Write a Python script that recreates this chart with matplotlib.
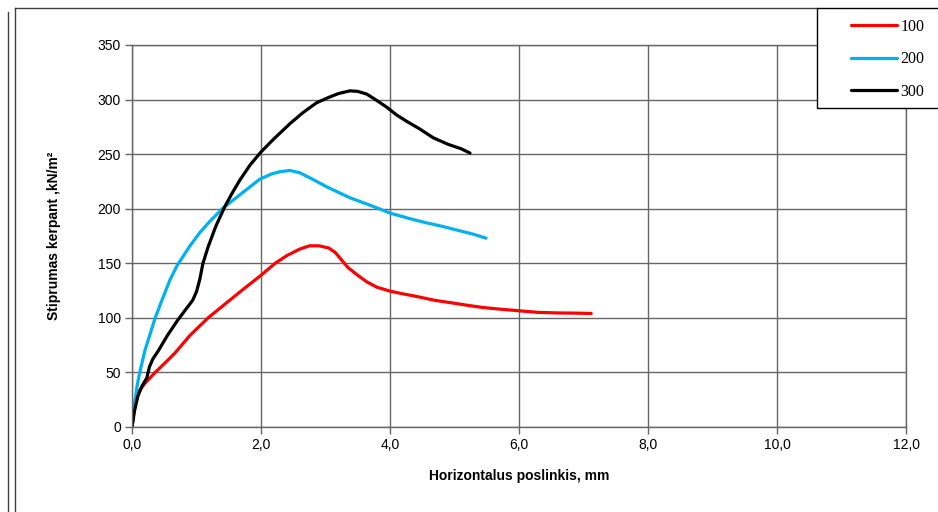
import matplotlib.pyplot as plt
from matplotlib.lines import Line2D
from matplotlib.patches import Rectangle
from matplotlib.ticker import FuncFormatter, MultipleLocator

plt.rcParams['font.family'] = ['Liberation Sans', 'DejaVu Sans']

# 100 serija
x_100 = [0.0, 0.03, 0.05, 0.1, 0.2, 0.36, 0.5, 0.67, 0.9, 1.18, 1.45, 1.7, 2.0, 2.22,
         2.4, 2.6, 2.75, 2.9, 3.05, 3.15, 3.25, 3.35, 3.5, 3.64, 3.8, 4.0, 4.2, 4.42,
         4.7, 4.93, 5.2, 5.44, 5.7, 6.0, 6.3, 6.6, 6.9, 7.12]
y_100 = [0, 15, 25, 32, 40, 50, 58, 68, 84, 100, 113, 125, 139, 150,
         157, 163, 166, 166, 164, 160, 153, 146, 139, 133, 128, 124.5, 122, 119.5,
         116, 114, 111.5, 109.5, 108, 106.5, 105, 104.5, 104.3, 104]

# 200 serija
x_200 = [0.0, 0.03, 0.05, 0.08, 0.12, 0.2, 0.28, 0.36, 0.45, 0.51, 0.59, 0.7, 0.9,
         1.05, 1.2, 1.4, 1.55, 1.7, 1.85, 1.98, 2.17, 2.3, 2.45, 2.6, 2.8, 3.02, 3.2,
         3.38, 3.7, 4.0, 4.3, 4.57, 4.8, 5.1, 5.3, 5.49]
y_200 = [0, 15, 25, 38, 50, 70, 85, 100, 114, 123, 135, 148, 166,
         178, 188, 200, 207, 214, 221, 227, 232, 234, 235, 233, 227, 220, 215,
         210, 203, 196, 191, 187, 184, 179.5, 176.5, 173]

# 300 serija
x_300 = [0.0, 0.04, 0.09, 0.15, 0.23, 0.27, 0.32, 0.41, 0.55, 0.71, 0.85, 0.94, 1.0,
         1.05, 1.1, 1.18, 1.3, 1.44, 1.55, 1.67, 1.83, 2.0, 2.2, 2.45, 2.65, 2.86, 3.05,
         3.2, 3.38, 3.5, 3.64, 3.8, 3.95, 4.1, 4.26, 4.45, 4.67, 4.9, 5.1, 5.24]
y_300 = [0, 15, 28, 37, 45, 55, 62, 70, 84, 98, 109, 116, 124,
         135, 150, 165, 184, 202, 214, 226, 240, 252, 264, 278, 288, 297, 302,
         305.5, 308, 307.5, 305, 299, 293, 286, 280, 273.5, 265, 259, 255, 251]

serijos = ['100', '200', '300']
spalvos = ['#ff0000', '#00b0f0', '#000000']

fig = plt.figure(figsize=(9.38, 5.12), dpi=100)
ax = fig.add_axes([132/938, 1 - 427/512, (906 - 132)/938, (427 - 45)/512])

linijos = []
for xs, ys, lbl, c in zip([x_100, x_200, x_300], [y_100, y_200, y_300], serijos, spalvos):
    l, = ax.plot(xs, ys, color=c, lw=2.3, label=lbl, solid_capstyle='round', solid_joinstyle='round')
    linijos.append(l)

ax.set_xlim(0, 12)
ax.set_ylim(0, 350)
ax.xaxis.set_major_locator(MultipleLocator(2))
ax.yaxis.set_major_locator(MultipleLocator(50))
ax.xaxis.set_major_formatter(FuncFormatter(lambda v, p: f'{v:.1f}'.replace('.', ',')))
ax.grid(True, color='#666666', lw=1.0)
ax.set_axisbelow(True)
for s in ax.spines.values():
    s.set_color('#666666')
    s.set_linewidth(1.0)
ax.tick_params(direction='out', length=5, width=1, color='#666666', labelsize=10, pad=3)

ax.set_xlabel('Horizontalus poslinkis, mm', fontsize=10, fontweight='bold', labelpad=12)
ax.set_ylabel('Stiprumas kerpant ,kN/m²', fontsize=10, fontweight='bold', labelpad=26)

# legendos rėmelis
fig.add_artist(Rectangle((817/938, 1 - 108/512), 140/938, 100/512, transform=fig.transFigure,
                         facecolor='white', edgecolor='black', lw=1.0, zorder=4))
leg = fig.legend(linijos, serijos, loc='upper left', bbox_to_anchor=(851/938, 1 - 19/512),
                 prop={'family': 'Liberation Serif', 'size': 11.5}, frameon=False,
                 handlelength=2.9, handletextpad=0.2, labelspacing=1.02,
                 borderpad=0, borderaxespad=0)
leg.set_zorder(6)

# rėmeliai
fig.add_artist(Line2D([8/938, 8/938], [0, 1 - 12/512], color='#404040', lw=1.0))
fig.add_artist(Line2D([15/938, 15/938], [0, 1 - 8/512], color='#404040', lw=1.0))
fig.add_artist(Line2D([15/938, 817/938], [1 - 8/512, 1 - 8/512], color='#404040', lw=1.0))

fig.savefig('out.png', dpi=100)
